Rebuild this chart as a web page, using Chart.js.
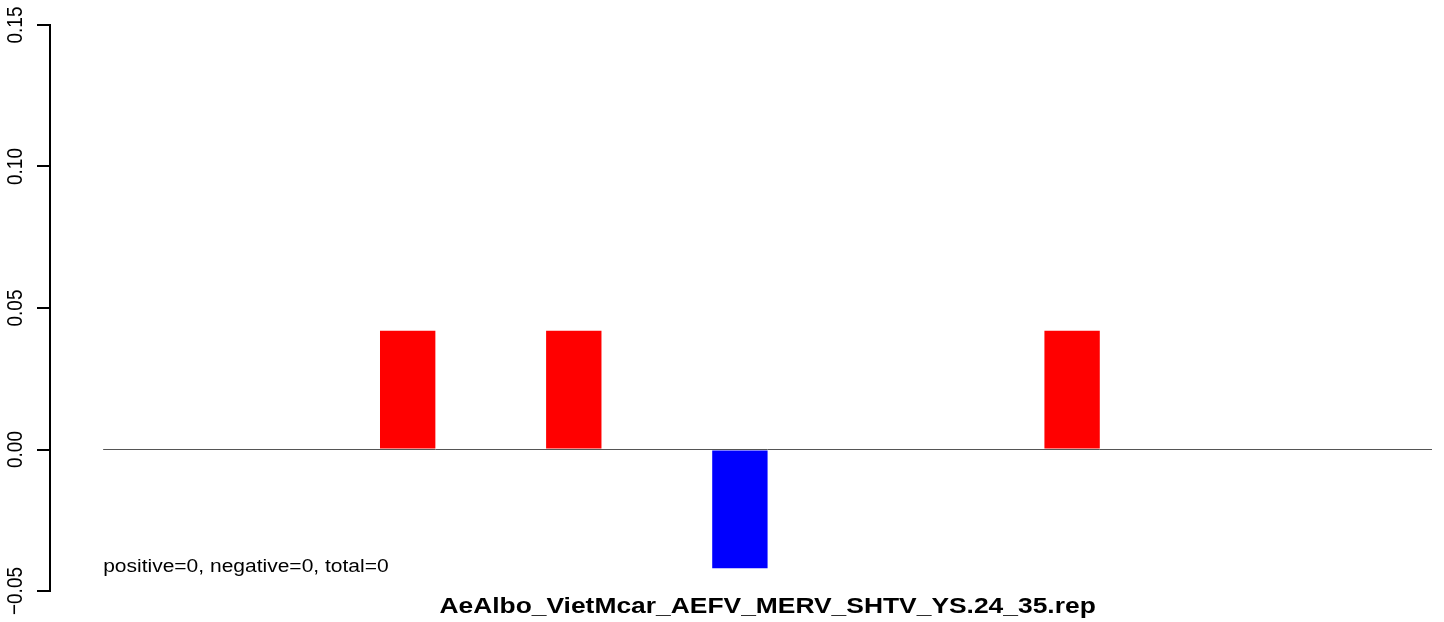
<!DOCTYPE html>
<html lang="en">
<head>
  <meta charset="UTF-8">
  <title>AeAlbo_VietMcar_AEFV_MERV_SHTV_YS.24_35.rep</title>
  <script src="https://cdn.jsdelivr.net/npm/chart.js"></script>
  <style>
    html, body { margin: 0; padding: 0; background: white; }
    canvas { display: block; }
  </style>
</head>
<body>
  <canvas id="chart" width="1444" height="622"></canvas>

  <script>
    // bar values, one per position (space = 2 bar widths before each bar, like R barplot)
    const positions = [1, 2, 3, 4, 5, 6, 7, 8];
    const values = [0, 0.042, 0.042, -0.042, 0, 0.042, 0, 0];
    const yTicks = [-0.05, 0, 0.05, 0.10, 0.15];
    const yTickLabels = ["\u22120.05", "0.00", "0.05", "0.10", "0.15"];
    const mainTitle = "AeAlbo_VietMcar_AEFV_MERV_SHTV_YS.24_35.rep";
    const noteText = "positive=0, negative=0, total=0";

    const FONT = "'Liberation Sans', Arial, Helvetica, sans-serif";
    const SX = 1.2; // the picture is a bit wider than tall, so text is stretched

    const barData = positions.map((p, i) => ({ x: 3 * p - 0.5, y: values[i] }));
    const barColors = values.map(v => v < 0 ? "#0000ff" : "#ff0000");

    function stretchedText(ctx, text, x, y, font, align, rot) {
      ctx.save();
      ctx.translate(x, y);
      if (rot) ctx.rotate(rot);
      if (rot) ctx.scale(1, SX); else ctx.scale(SX, 1);
      ctx.font = font;
      ctx.fillStyle = "#000";
      ctx.textAlign = align;
      ctx.textBaseline = "alphabetic";
      ctx.fillText(text, 0, 0);
      ctx.restore();
    }

    const textPlugin = {
      id: "rtext",
      afterDraw(chart) {
        const ctx = chart.ctx;
        const xs = chart.scales.x, ys = chart.scales.y;
        yTicks.forEach((v, i) => {
          stretchedText(ctx, yTickLabels[i], 22, ys.getPixelForValue(v), "19px " + FONT, "center", -Math.PI / 2);
        });
        stretchedText(ctx, noteText, xs.getPixelForValue(0), ys.getPixelForValue(-0.0434), "17.5px " + FONT, "left", 0);
        stretchedText(ctx, mainTitle, xs.getPixelForValue(12), 613, "bold 22px " + FONT, "center", 0);
      }
    };

    new Chart(document.getElementById("chart"), {
      type: "bar",
      data: {
        datasets: [{
          type: "line",
          data: [{ x: 0, y: 0 }, { x: 24, y: 0 }],
          borderColor: "#555555",
          borderWidth: 1,
          pointRadius: 0,
          order: 0
        }, {
          type: "bar",
          data: barData,
          backgroundColor: barColors,
          borderWidth: 0,
          barPercentage: 1 / 3,
          categoryPercentage: 1,
          order: 1
        }]
      },
      options: {
        responsive: false,
        animation: false,
        layout: { padding: { top: 25, bottom: 31, right: 12, left: 0 } },
        plugins: {
          legend: { display: false },
          tooltip: { enabled: false },
          title: { display: false }
        },
        scales: {
          x: {
            type: "linear",
            min: -0.96,
            max: 24,
            offset: false,
            display: false
          },
          y: {
            min: -0.05,
            max: 0.15,
            afterBuildTicks: (scale) => { scale.ticks = yTicks.map(v => ({ value: v })); },
            afterFit: (scale) => { scale.width = 50; },
            ticks: { display: false },
            grid: {
              drawOnChartArea: false,
              drawTicks: true,
              tickLength: 13,
              color: "#000000",
              lineWidth: 2
            },
            border: { display: true, color: "#000000", width: 2 }
          }
        }
      },
      plugins: [textPlugin]
    });
  </script>
</body>
</html>
